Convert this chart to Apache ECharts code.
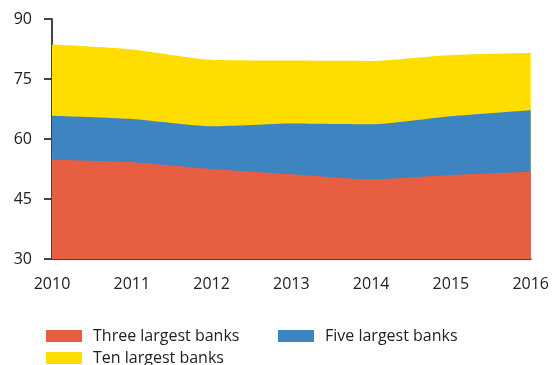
<!DOCTYPE html>
<html>
<head>
<meta charset="utf-8">
<script src="https://cdn.jsdelivr.net/npm/echarts@6/dist/echarts.min.js"></script>
<style>
  html, body { margin: 0; padding: 0; background: #fff; }
  #chart { width: 552px; height: 365px; }
</style>
</head>
<body>
<div id="chart"></div>
<script>
// Concentration of the banking sector: share held by the largest banks (%)
const years = ['2010', '2011', '2012', '2013', '2014', '2015', '2016'];
const threeLargest = [54.8, 54.2, 52.5, 51.2, 49.9, 51.0, 51.8];
const fiveLargest = [65.8, 65.0, 63.2, 63.9, 63.7, 65.7, 67.2];
const tenLargest = [83.6, 82.4, 79.8, 79.6, 79.5, 81.0, 81.5];
const yTicks = [30, 45, 60, 75, 90];

const FONT = '"Open Sans", "Noto Sans", sans-serif';
const TEXT = '#222';
const RED = '#E85E40';
const BLUE = '#3E84C0';
const YELLOW = '#FFDD00';

function areaSeries(name, data, color, z) {
  return {
    name: name,
    type: 'line',
    data: data,
    smooth: 0.2,
    symbol: 'none',
    z: z,
    lineStyle: { width: 0, color: color },
    itemStyle: { color: color },
    areaStyle: { color: color, opacity: 1, origin: 'start' }
  };
}

function legendAt(name, left, top) {
  return {
    data: [name],
    left: left,
    top: top,
    orient: 'horizontal',
    itemWidth: 36,
    itemHeight: 12,
    icon: 'rect',
    selectedMode: false,
    textStyle: { fontFamily: FONT, fontSize: 16, color: TEXT, padding: [0, 0, 0, 6] }
  };
}

const chart = echarts.init(document.getElementById('chart'), null, { renderer: 'canvas' });
chart.setOption({
  animation: false,
  backgroundColor: '#fff',
  grid: { left: 52, right: 20, top: 19, bottom: 106, containLabel: false },
  legend: [
    legendAt('Three largest banks', 41, 323),
    legendAt('Five largest banks', 273, 323),
    legendAt('Ten largest banks', 41, 345)
  ],
  xAxis: {
    type: 'category',
    data: years,
    boundaryGap: false,
    axisLine: { lineStyle: { color: '#444', width: 2 } },
    axisTick: { show: false },
    axisLabel: { fontFamily: FONT, fontSize: 16, color: TEXT, margin: 17 },
    splitLine: { show: false }
  },
  yAxis: {
    type: 'value',
    min: yTicks[0],
    max: yTicks[yTicks.length - 1],
    interval: 15,
    axisLine: { show: true, lineStyle: { color: '#444', width: 2 } },
    axisTick: { show: true, length: 8, lineStyle: { color: '#444', width: 2 } },
    axisLabel: { fontFamily: FONT, fontSize: 16, color: TEXT, margin: 20 },
    splitLine: { show: false }
  },
  series: [
    areaSeries('Ten largest banks', tenLargest, YELLOW, 1),
    areaSeries('Five largest banks', fiveLargest, BLUE, 2),
    areaSeries('Three largest banks', threeLargest, RED, 3)
  ]
});
</script>
</body>
</html>
